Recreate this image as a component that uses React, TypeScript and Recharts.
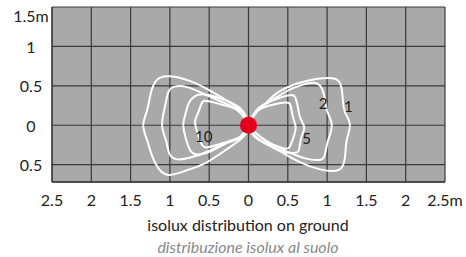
import { CartesianGrid, ComposedChart, Line, Scatter, XAxis, YAxis } from "recharts";

// isolux contours, one closed lobe per side, [x m, y m]
const lux1Right: [number, number][] = [
  [0, 0], [0.1, 0.16], [0.24, 0.3], [0.38, 0.42], [0.62, 0.53], [0.88, 0.59], [1.1, 0.59],
  [1.18, 0.49], [1.2, 0.32], [1.23, 0.16], [1.29, 0.01], [1.25, -0.19], [1.23, -0.38],
  [1.19, -0.53], [1.09, -0.58], [0.91, -0.56], [0.66, -0.47], [0.38, -0.32], [0.11, -0.16], [0, 0],
];
const lux1Left: [number, number][] = [
  [0, 0], [-0.07, -0.15], [-0.3, -0.32], [-0.55, -0.48], [-0.81, -0.58], [-1.02, -0.63],
  [-1.15, -0.54], [-1.23, -0.38], [-1.29, -0.19], [-1.34, 0], [-1.29, 0.19], [-1.24, 0.42],
  [-1.16, 0.58], [-1.0, 0.62], [-0.74, 0.56], [-0.49, 0.44], [-0.24, 0.29], [-0.07, 0.15], [0, 0],
];
const lux2Right: [number, number][] = [
  [0, 0], [0.12, 0.19], [0.38, 0.37], [0.59, 0.48], [0.81, 0.54], [0.92, 0.49], [0.97, 0.34],
  [1.0, 0.18], [1.06, 0], [1.01, -0.2], [0.97, -0.38], [0.9, -0.44], [0.72, -0.42],
  [0.46, -0.32], [0.17, -0.16], [0, 0],
];
const lux2Left: [number, number][] = [
  [0, 0], [-0.1, -0.14], [-0.24, -0.2], [-0.49, -0.32], [-0.74, -0.41], [-0.92, -0.43],
  [-1.01, -0.35], [-1.05, -0.19], [-1.1, 0], [-1.06, 0.25], [-1.02, 0.42], [-0.94, 0.49],
  [-0.77, 0.48], [-0.55, 0.39], [-0.3, 0.28], [-0.11, 0.16], [0, 0],
];
const lux5Right: [number, number][] = [
  [0, 0], [0.1, 0.19], [0.27, 0.3], [0.52, 0.38], [0.6, 0.34], [0.63, 0.22], [0.66, 0.09],
  [0.71, -0.03], [0.67, -0.16], [0.64, -0.32], [0.58, -0.35], [0.45, -0.34], [0.25, -0.25],
  [0.1, -0.16], [0, 0],
];
const lux5Left: [number, number][] = [
  [0, 0], [-0.08, -0.15], [-0.26, -0.22], [-0.46, -0.32], [-0.64, -0.37], [-0.74, -0.32],
  [-0.8, -0.16], [-0.83, 0.01], [-0.8, 0.15], [-0.76, 0.28], [-0.68, 0.37], [-0.55, 0.39],
  [-0.3, 0.32], [-0.08, 0.19], [0, 0],
];
const lux10Right: [number, number][] = [
  [0, 0], [0.08, 0.16], [0.27, 0.25], [0.48, 0.29], [0.54, 0.23], [0.57, 0.09], [0.6, -0.03],
  [0.57, -0.16], [0.52, -0.28], [0.44, -0.29], [0.25, -0.23], [0.08, -0.15], [0, 0],
];
const lux10Left: [number, number][] = [
  [0, 0], [-0.07, -0.14], [-0.34, -0.23], [-0.52, -0.28], [-0.59, -0.25], [-0.64, -0.13],
  [-0.68, 0.04], [-0.64, 0.16], [-0.59, 0.29], [-0.49, 0.3], [-0.26, 0.24], [-0.07, 0.16], [0, 0],
];

const labelText = ["1", "2", "5", "10"];
const labelX = [1.27, 0.95, 0.74, -0.57];
const labelY = [0.24, 0.28, -0.17, -0.14];

const xTicks = [-2.5, -2, -1.5, -1, -0.5, 0, 0.5, 1, 1.5, 2, 2.5];
const yTicks = [-0.5, 0, 0.5, 1, 1.5];

const contours = [lux1Right, lux1Left, lux2Right, lux2Left, lux5Right, lux5Left, lux10Right, lux10Left];

const toPts = (arr: [number, number][]) => arr.map(([x, y]) => ({ x, y }));
const labels = labelText.map((t, i) => ({ x: labelX[i], y: labelY[i], t }));

const fmt = (v: number, max: number) => `${Math.abs(v)}${v === max ? "m" : ""}`;

const font = "Lato, 'Open Sans', sans-serif";

function XTick({ x, y, payload }: any) {
  return (
    <text x={x} y={y} dy="0.71em" textAnchor="middle" fontSize={16} fill="#222" fontFamily={font}>
      {fmt(payload.value, 2.5)}
    </text>
  );
}

function YTick({ x, y, payload }: any) {
  const top = payload.value === 1.5 ? 7 : 0;
  return (
    <text x={x - 21} y={y + top} dy="0.4em" textAnchor="middle" fontSize={16} fill="#222" fontFamily={font}>
      {fmt(payload.value, 1.5)}
    </text>
  );
}

export default function App() {
  return (
    <div style={{ position: "relative", width: 466, height: 257, background: "#fff" }}>
      <style>{`body{margin:0}`}</style>
      <ComposedChart width={466} height={257} margin={{ top: 7, right: 21, bottom: 45, left: 0 }}>
        <CartesianGrid stroke="#3a3a3a" strokeWidth={1.2} fill="#a9a9a9" fillOpacity={1} />
        <XAxis
          type="number"
          dataKey="x"
          domain={[-2.5, 2.5]}
          ticks={xTicks}
          allowDataOverflow
          height={30}
          tickSize={0}
          tickMargin={13}
          tickLine={false}
          axisLine={{ stroke: "#3a3a3a", strokeWidth: 1.5 }}
          tick={<XTick />}
        />
        <YAxis
          type="number"
          dataKey="y"
          domain={[-0.72, 1.5]}
          ticks={yTicks}
          allowDataOverflow
          width={52}
          tickSize={0}
          tickMargin={0}
          tickLine={false}
          axisLine={{ stroke: "#3a3a3a", strokeWidth: 1.2 }}
          tick={<YTick />}
        />
        {contours.map((c, i) => (
          <Line
            key={i}
            data={toPts(c)}
            dataKey="y"
            type="natural"
            stroke="#fff"
            strokeWidth={2}
            dot={false}
            activeDot={false}
            legendType="none"
            isAnimationActive={false}
          />
        ))}
        <Scatter
          data={[{ x: 0, y: 0 }]}
          isAnimationActive={false}
          shape={(p: any) => <circle cx={p.cx} cy={p.cy} r={8.5} fill="#e2001a" />}
        />
        <Scatter
          data={labels}
          isAnimationActive={false}
          shape={(p: any) => (
            <text x={p.cx} y={p.cy} dy="0.36em" textAnchor="middle" fontSize={15} fill="#222" fontFamily={font}>
              {p.payload.t}
            </text>
          )}
        />
      </ComposedChart>
      <div
        style={{
          position: "absolute",
          left: 48,
          width: 400,
          top: 216,
          textAlign: "center",
          fontFamily: font,
          fontSize: 16,
          lineHeight: "18px",
          color: "#222",
        }}
      >
        isolux distribution on ground
      </div>
      <div
        style={{
          position: "absolute",
          left: 48,
          width: 400,
          top: 238,
          textAlign: "center",
          fontFamily: font,
          fontSize: 16,
          fontStyle: "italic",
          lineHeight: "18px",
          color: "#888",
        }}
      >
        distribuzione isolux al suolo
      </div>
    </div>
  );
}
